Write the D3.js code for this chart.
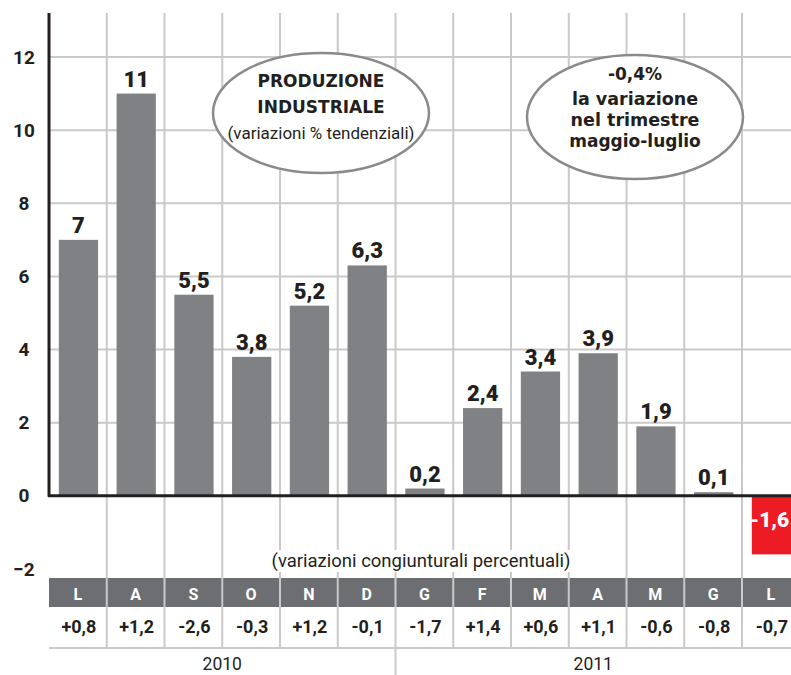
<!DOCTYPE html>
<html>
<head>
<meta charset="utf-8">
<script src="https://cdn.jsdelivr.net/npm/d3@7"></script>
<style>
  body { margin: 0; background: #fff; }
  svg text { font-family: Roboto, "Open Sans", sans-serif; }
</style>
</head>
<body>
<div id="chart"></div>
<script>
// Produzione industriale: variazioni % tendenziali (bars) e congiunturali (table)
const months = ["L", "A", "S", "O", "N", "D", "G", "F", "M", "A", "M", "G", "L"];
const tendenziali = [7, 11, 5.5, 3.8, 5.2, 6.3, 0.2, 2.4, 3.4, 3.9, 1.9, 0.1, -1.6];
const congiunturali = [0.8, 1.2, -2.6, -0.3, 1.2, -0.1, -1.7, 1.4, 0.6, 1.1, -0.6, -0.8, -0.7];
const years = ["2010", "2011"];
const yearFirstMonth = [0, 6];
const yTicks = [-2, 0, 2, 4, 6, 8, 10, 12];

const width = 791, height = 675;
const left = 49, colW = 57.75;
const axisTop = 13;
const headerTop = 578, headerBottom = 607, tableBottom = 648;
const wideBold = "'DejaVu Sans', sans-serif";

const itNum = v => String(v).replace(".", ",");
const signed = v => (v > 0 ? "+" : "") + itNum(v);

const svg = d3.select("#chart").append("svg")
    .attr("width", width)
    .attr("height", height);

// Scales
const idx = d3.range(months.length);
const x = d3.scaleBand()
    .domain(idx)
    .range([left, left + colW * months.length])
    .paddingInner(0);
const bw = x.bandwidth();

const y = d3.scaleLinear()
    .domain([-2, 12])
    .range([569, 57]);

// Horizontal grid lines
svg.append("g")
    .selectAll("line")
    .data(yTicks.filter(t => t > 0))
    .enter().append("line")
    .attr("x1", left).attr("x2", width)
    .attr("y1", d => y(d)).attr("y2", d => y(d))
    .attr("stroke", "#c9c9c9")
    .attr("stroke-width", 2);

// Table header band
svg.append("rect")
    .attr("x", left).attr("y", headerTop)
    .attr("width", width - left).attr("height", headerBottom - headerTop)
    .attr("fill", "#6d6e71");

// Vertical grid lines at column boundaries
svg.append("g")
    .selectAll("line")
    .data(idx.slice(1))
    .enter().append("line")
    .attr("x1", d => x(d)).attr("x2", d => x(d))
    .attr("y1", axisTop)
    .attr("y2", d => yearFirstMonth.includes(d) ? height : tableBottom)
    .attr("stroke", "#c9c9c9")
    .attr("stroke-width", 2);

// Line under the table values
svg.append("line")
    .attr("x1", left).attr("x2", width)
    .attr("y1", tableBottom).attr("y2", tableBottom)
    .attr("stroke", "#c9c9c9")
    .attr("stroke-width", 2);

// Annotation ellipses
function bubble(cx, cy, rx, ry, lines) {
    const g = svg.append("g");
    g.append("ellipse")
        .attr("cx", cx).attr("cy", cy).attr("rx", rx).attr("ry", ry)
        .attr("fill", "#fff")
        .attr("stroke", "#8a8a8a")
        .attr("stroke-width", 2.5);
    lines.forEach(l => {
        g.append("text")
            .attr("x", cx).attr("y", l.y)
            .attr("text-anchor", "middle")
            .style("font-family", l.bold ? wideBold : null)
            .style("font-size", l.size + "px")
            .style("font-weight", l.bold ? 700 : 400)
            .attr("fill", "#231f20")
            .text(l.t);
    });
}
bubble(321, 113, 108, 60, [
    {t: "PRODUZIONE", y: 87, size: 17, bold: true},
    {t: "INDUSTRIALE", y: 113, size: 17, bold: true},
    {t: "(variazioni % tendenziali)", y: 139, size: 17, bold: false}
]);
bubble(635, 117, 108, 62, [
    {t: "-0,4%", y: 80, size: 17, bold: true},
    {t: "la variazione", y: 105, size: 17.5, bold: true},
    {t: "nel trimestre", y: 126, size: 17.5, bold: true},
    {t: "maggio-luglio", y: 147, size: 17, bold: true}
]);

// Bars
const barOff = bw * 0.17, barW = bw * 0.68;
svg.append("g")
    .selectAll("rect")
    .data(idx)
    .enter().append("rect")
    .attr("x", i => x(i) + barOff)
    .attr("y", i => Math.min(y(tendenziali[i]), y(0)))
    .attr("width", barW)
    .attr("height", i => Math.abs(y(tendenziali[i]) - y(0)))
    .attr("fill", i => tendenziali[i] < 0 ? "#ed1c24" : "#808184");

// Bar labels
svg.append("g")
    .selectAll("text")
    .data(idx)
    .enter().append("text")
    .attr("x", i => x(i) + barOff + barW / 2 - (tendenziali[i] < 0 ? 2 : 0))
    .attr("y", i => tendenziali[i] < 0 ? y(0) + 31 : y(tendenziali[i]) - 7)
    .attr("text-anchor", "middle")
    .style("font-size", i => tendenziali[i] < 0 ? "21px" : "22px")
    .style("font-weight", 900)
    .attr("fill", i => tendenziali[i] < 0 ? "#fff" : "#231f20")
    .text(i => itNum(tendenziali[i]));

// Axes lines
svg.append("line")
    .attr("x1", left).attr("x2", left)
    .attr("y1", axisTop).attr("y2", y(0) + 1)
    .attr("stroke", "#231f20").attr("stroke-width", 3);
svg.append("line")
    .attr("x1", left - 1).attr("x2", width)
    .attr("y1", y(0)).attr("y2", y(0))
    .attr("stroke", "#231f20").attr("stroke-width", 3);

// Y axis labels
const yAxis = d3.axisLeft(y).tickValues(yTicks).tickSize(0).tickPadding(0);
const gy = svg.append("g")
    .attr("transform", "translate(24,0)")
    .call(yAxis);
gy.select(".domain").remove();
gy.selectAll("text")
    .attr("text-anchor", "middle")
    .attr("fill", "#231f20")
    .style("font-family", "Roboto, sans-serif")
    .style("font-size", "19px")
    .style("font-weight", 700);

// Table caption with white background
const cap = svg.append("g");
const capText = cap.append("text")
    .attr("x", 421).attr("y", 567)
    .attr("text-anchor", "middle")
    .style("font-size", "18.5px")
    .attr("fill", "#231f20")
    .text("(variazioni congiunturali percentuali)");
const bb = capText.node().getBBox();
cap.insert("rect", "text")
    .attr("x", bb.x - 3).attr("y", bb.y)
    .attr("width", bb.width + 6).attr("height", bb.height)
    .attr("fill", "#fff");

// Month header letters
svg.append("g")
    .selectAll("text")
    .data(idx)
    .enter().append("text")
    .attr("x", i => x(i) + bw / 2)
    .attr("y", 600)
    .attr("text-anchor", "middle")
    .style("font-size", "16px")
    .style("font-weight", 700)
    .attr("fill", "#fff")
    .text(i => months[i]);

// Month-on-month values
svg.append("g")
    .selectAll("text")
    .data(idx)
    .enter().append("text")
    .attr("x", i => x(i) + bw / 2 + 1)
    .attr("y", 633)
    .attr("text-anchor", "middle")
    .style("font-size", "18px")
    .style("font-weight", 700)
    .attr("fill", "#231f20")
    .text(i => signed(congiunturali[i]));

// Year labels
svg.append("g")
    .selectAll("text")
    .data(years)
    .enter().append("text")
    .attr("x", (d, k) => {
        const a = x(yearFirstMonth[k]);
        const b = k + 1 < years.length ? x(yearFirstMonth[k + 1]) : width;
        return (a + b) / 2;
    })
    .attr("y", 670)
    .attr("text-anchor", "middle")
    .style("font-size", "17.5px")
    .attr("fill", "#231f20")
    .text(d => d);
</script>
</body>
</html>
